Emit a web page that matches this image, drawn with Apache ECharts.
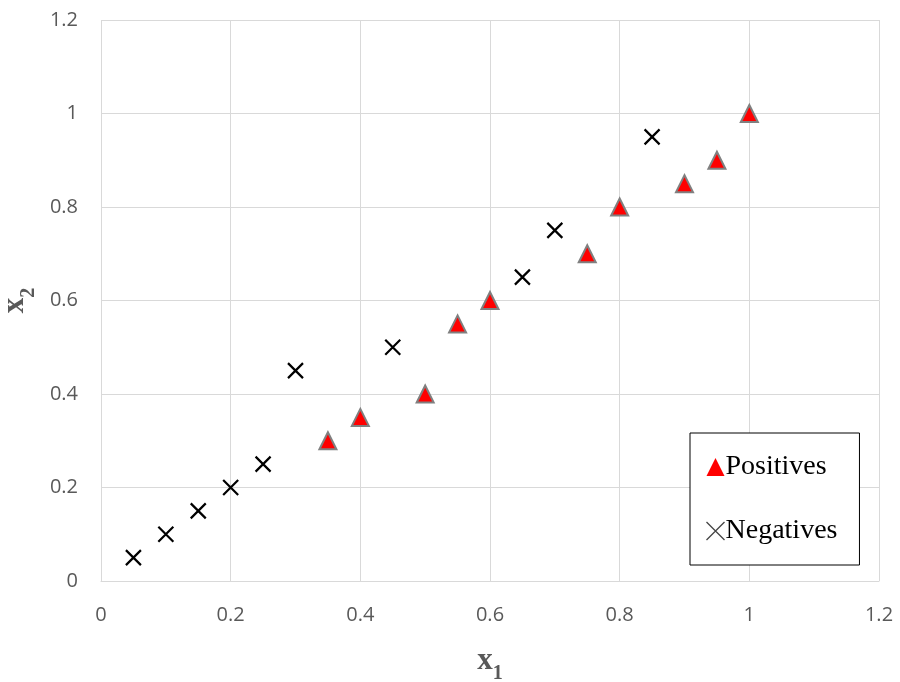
<!DOCTYPE html>
<html><head><meta charset="utf-8">
<script src="https://cdn.jsdelivr.net/npm/echarts@6/dist/echarts.min.js"></script>
<style>html,body{margin:0;padding:0;background:#fff}#c{width:900px;height:682px}</style>
</head><body><div id="c"></div>
<script>
const posX = [0.35, 0.4, 0.5, 0.55, 0.6, 0.75, 0.8, 0.9, 0.95, 1.0];
const posY = [0.3, 0.35, 0.4, 0.55, 0.6, 0.7, 0.8, 0.85, 0.9, 1.0];
const negX = [0.05, 0.1, 0.15, 0.2, 0.25, 0.3, 0.45, 0.65, 0.7, 0.85];
const negY = [0.05, 0.1, 0.15, 0.2, 0.25, 0.45, 0.5, 0.65, 0.75, 0.95];
const seriesNames = ['Positives', 'Negatives'];
const xTitle = ['x', '1'];
const yTitle = ['x', '2'];

const cross = 'path://M0,0L10,10M10,0L0,10';
const chart = echarts.init(document.getElementById('c'));
const titleRich = {
  b: {fontFamily: 'Liberation Serif', fontWeight: 'bold', fontSize: 31, color: '#595959'},
  s: {fontFamily: 'Liberation Serif', fontWeight: 'bold', fontSize: 20, color: '#595959', verticalAlign: 'bottom', padding: [0,0,-8,0]}
};
chart.setOption({
  animation: false,
  grid: {left: 101, right: 21, top: 20, bottom: 101, containLabel: false, outerBoundsMode: 'none'},
  xAxis: {
    type: 'value', min: 0, max: 1.2, interval: 0.2,
    name: '{b|' + xTitle[0] + '}{s|' + xTitle[1] + '}', nameLocation: 'middle', nameGap: 64,
    nameTextStyle: {rich: titleRich},
    axisLine: {show: true, lineStyle: {color: '#d9d9d9'}},
    axisTick: {show: false},
    axisLabel: {color: '#595959', fontSize: 20, fontFamily: 'Open Sans', margin: 24, formatter: v => +v.toFixed(1) + ''},
    splitLine: {show: true, lineStyle: {color: '#d9d9d9'}}
  },
  yAxis: {
    type: 'value', min: 0, max: 1.2, interval: 0.2,
    name: '{b|' + yTitle[0] + '}{s|' + yTitle[1] + '}', nameLocation: 'middle', nameGap: 58, nameRotate: 90,
    nameTextStyle: {rich: titleRich},
    axisLine: {show: false},
    axisTick: {show: false},
    axisLabel: {color: '#595959', fontSize: 20, fontFamily: 'Open Sans', margin: 23, formatter: v => +v.toFixed(1) + ''},
    splitLine: {show: true, lineStyle: {color: '#d9d9d9'}}
  },
  legend: {
    orient: 'vertical', left: 690, top: 433,
    backgroundColor: '#fff', borderColor: '#000', borderWidth: 1,
    padding: [20, 22, 20, 14], itemGap: 36, itemWidth: 18, itemHeight: 18,
    textStyle: {fontFamily: 'Liberation Serif', fontSize: 28, color: '#000', padding: [0,0,0,-4]},
    data: [
      {name: seriesNames[0], icon: 'triangle', itemStyle: {color: '#ff0000', borderWidth: 0}},
      {name: seriesNames[1], icon: cross, itemStyle: {color: 'none', borderColor: '#444', borderWidth: 1.3}}
    ]
  },
  series: [
    {name: seriesNames[0], type: 'scatter', symbol: 'triangle', symbolSize: 17,
     itemStyle: {color: '#ff0000', borderColor: '#808080', borderWidth: 2, opacity: 1},
     data: posX.map((x, i) => [x, posY[i]])},
    {name: seriesNames[1], type: 'scatter', symbol: cross, symbolSize: 15,
     itemStyle: {color: 'none', borderColor: '#000', borderWidth: 2.2, opacity: 1},
     data: negX.map((x, i) => [x, negY[i]])}
  ]
});
</script></body></html>
